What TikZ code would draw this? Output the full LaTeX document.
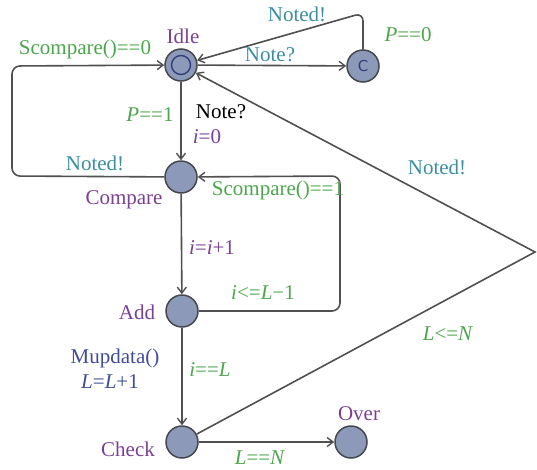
\documentclass[tikz,border=0pt]{standalone}
\usepackage{fontspec}
\setmainfont{Liberation Serif}
\setsansfont{DejaVu Sans}
\usetikzlibrary{arrows.meta}
\definecolor{nodefill}{RGB}{140,153,184}
\definecolor{nodeline}{RGB}{70,72,80}
\definecolor{edgecol}{RGB}{80,80,80}
\definecolor{locpurple}{RGB}{122,64,150}
\definecolor{grdgreen}{RGB}{76,166,76}
\definecolor{synteal}{RGB}{58,143,160}
\definecolor{updblue}{RGB}{64,76,154}
\tikzset{
  loc/.style={circle,draw=nodeline,fill=nodefill,line width=1.5pt,minimum size=32pt,inner sep=0pt},
  edge/.style={draw=edgecol,line width=1.6pt,rounded corners=8pt,-{Straight Barb[length=6pt,width=9pt,line width=1.4pt]}},
  lbl/.style={font=\fontsize{21}{24}\selectfont,inner sep=0pt,anchor=center},
  locname/.style={lbl,text=locpurple},
  guard/.style={lbl,text=grdgreen},
  sync/.style={lbl,text=synteal},
  upd/.style={lbl,text=locpurple},
  upb/.style={lbl,text=updblue}
}
\begin{document}
\begin{tikzpicture}[x=1pt,y=-1pt]
\useasboundingbox (0,0) rectangle (537,469);
% locations
\node[loc] (Idle) at (181,65) {};
\node[circle,draw=updblue!80!black,line width=1.4pt,minimum size=19pt,inner sep=0pt] (IdleIn) at (Idle.center) {};
\node[loc] (C) at (363,66) {};
\node[text=updblue!80!black,font=\sffamily\fontsize{15}{15}\selectfont] (Cmark) at (C.center) {C};
\node[loc] (Compare) at (181,177) {};
\node[loc] (Add) at (182,311) {};
\node[loc] (Check) at (182,442) {};
\node[loc] (Over) at (351,442) {};
\coordinate (ctop) at (363,13);
\coordinate (lefttop) at (12,66);
\coordinate (leftbot) at (12,176);
\coordinate (rbot) at (340,311);
\coordinate (rtop) at (340,176);
\coordinate (apex) at (535,252);
% edges
\draw[edge] (Idle) -- (C);
\draw[edge] (C.north) -- (ctop) -- (Idle);
\draw[edge] (Idle) -- (Compare);
\draw[edge] (Compare) -- (leftbot) -- (lefttop) -- (Idle);
\draw[edge] (Compare) -- (Add);
\draw[edge] (Add) -- (rbot) -- (rtop) -- (Compare);
\draw[edge] (Add) -- (Check);
\draw[edge] (Check) -- (Over);
\draw[edge,sharp corners] (Check) -- (apex) -- (Idle);
% location names
\node[locname] (nIdle) at (183,36) {Idle};
\node[locname] (nCompare) at (124,200) {Compare};
\node[locname] (nAdd) at (137,312) {Add};
\node[locname] (nCheck) at (128,449) {Check};
\node[locname] (nOver) at (359,414) {Over};
% edge labels
\node[guard] (g1) at (85,49) {Scompare()==0};
\node[sync] (s1) at (297,14) {Noted!};
\node[sync] (s2) at (270,55) {Note?};
\node[guard] (g2) at (408,35) {\textit{P}==0};
\node[guard] (g3) at (150,115) {\textit{P}==1};
\node[lbl] (s3) at (221,112) {Note?};
\node[upd] (u1) at (207,137) {\textit{i}=0};
\node[sync] (s4) at (95,163) {Noted!};
\node[guard] (g4) at (278,190) {Scompare()==1};
\node[sync] (s5) at (437,167) {Noted!};
\node[upd] (u2) at (212,248) {\textit{i}=\textit{i}+1};
\node[guard] (g5) at (263,293) {\textit{i}<=\textit{L}−1};
\node[upb] (u3) at (115,358) {Mupdata()};
\node[upb] (u4) at (110,382) {\textit{L}=\textit{L}+1};
\node[guard] (g6) at (210,370) {\textit{i}==\textit{L}};
\node[guard] (g7) at (448,334) {\textit{L}<=\textit{N}};
\node[guard] (g8) at (260,458) {\textit{L}==\textit{N}};
\end{tikzpicture}
\end{document}
